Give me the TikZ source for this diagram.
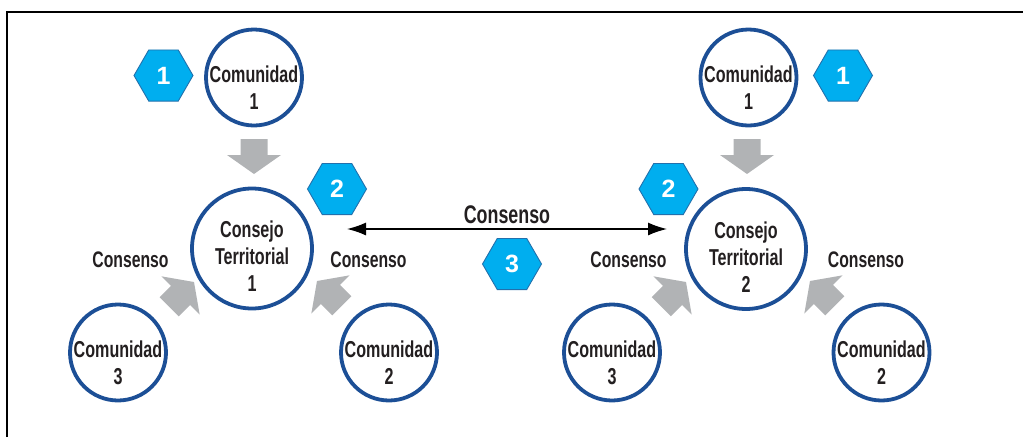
\documentclass[tikz,border=0pt]{standalone}
\usepackage{fontspec}
\setmainfont{Liberation Sans}
\newfontfamily\condfont[FakeStretch=0.7]{Liberation Sans}
\usetikzlibrary{shapes.geometric,arrows.meta,calc}
\definecolor{ringblue}{HTML}{1C4F96}
\definecolor{hexfill}{HTML}{00AEEF}
\definecolor{hexline}{HTML}{2270AC}
\definecolor{arrowgray}{HTML}{B1B3B5}
\definecolor{inkblack}{HTML}{231F20}
\newcommand\grayarrow[4]{%
  \fill[arrowgray]
    ({#1},{#2})
    -- ({#1-19*#3+27*(-#4)},{#2-19*#4+27*#3})
    -- ({#1-19*#3+13.5*(-#4)},{#2-19*#4+13.5*#3})
    -- ({#1-35*#3+13.5*(-#4)},{#2-35*#4+13.5*#3})
    -- ({#1-35*#3-13.5*(-#4)},{#2-35*#4-13.5*#3})
    -- ({#1-19*#3-13.5*(-#4)},{#2-19*#4-13.5*#3})
    -- ({#1-19*#3-27*(-#4)},{#2-19*#4-27*#3})
    -- cycle;}
\tikzset{
  comm/.style={circle, draw=ringblue, line width=3.8pt, fill=white,
    minimum size=96pt, inner sep=0pt,
    label={[yshift=-10pt, align=center, text=inkblack, font=\condfont\bfseries\fontsize{23}{27}\selectfont]center:#1}},
  council/.style={circle, draw=ringblue, line width=3.8pt, fill=white,
    minimum size=120pt, inner sep=0pt,
    label={[yshift=-8pt, align=center, text=inkblack, font=\condfont\bfseries\fontsize{23}{27}\selectfont]center:#1}},
  hexnum/.style={regular polygon, regular polygon sides=6, draw=hexline, line width=0.9pt,
    fill=hexfill, minimum size=59pt, inner sep=0pt, text=white,
    font=\bfseries\fontsize{25}{25}\selectfont},
  conslabel/.style={text=inkblack, font=\condfont\bfseries\fontsize{22.5}{26}\selectfont, inner sep=0pt},
  bigconslabel/.style={text=inkblack, font=\condfont\bfseries\fontsize{25.5}{28}\selectfont, inner sep=0pt},
  linkarrow/.style={{Latex[length=19pt,width=13pt]}-{Latex[length=19pt,width=13pt]}, line width=1.4pt, draw=black}
}
\begin{document}
\begin{tikzpicture}[x=1pt,y=-1pt]
\useasboundingbox (0,0) rectangle (1023,437);
% frame
\draw[line width=1.3pt, black] (7,437) -- (7,12) -- (1023,12);

% gray arrows (left group)
\grayarrow{254}{174}{0}{1}
\grayarrow{194}{282}{0.7071}{-0.7071}
\grayarrow{317}{281}{-0.7071}{-0.7071}
% gray arrows (right group)
\grayarrow{747}{174}{0}{1}
\grayarrow{686}{282}{0.7071}{-0.7071}
\grayarrow{810}{281}{-0.7071}{-0.7071}

% left group
\node[comm={Comunidad\\1}] (lc1) at (254,77.5) {};
\node[council={Consejo\\Territorial\\1}] (ct1) at (252,248.5) {};
\node[comm={Comunidad\\3}] (lc3) at (118,352.5) {};
\node[comm={Comunidad\\2}] (lc2) at (389,352.5) {};
\node[hexnum] (lh1) at (163.5,75.5) {1};
\node[hexnum] (lh2) at (337,189) {2};
\node[conslabel] (lcl) at (130.5,260) {Consenso};
\node[conslabel] (lcr) at (368.5,260) {Consenso};

% right group
\node[comm={Comunidad\\1}] (rc1) at (748.5,77.5) {};
\node[council={Consejo\\Territorial\\2}] (ct2) at (746,249) {};
\node[comm={Comunidad\\3}] (rc3) at (612,352.5) {};
\node[comm={Comunidad\\2}] (rc2) at (881.5,352.5) {};
\node[hexnum] (rh1) at (843,75.5) {1};
\node[hexnum] (rh2) at (668.5,189) {2};
\node[conslabel] (rcl) at (628.5,260) {Consenso};
\node[conslabel] (rcr) at (866,260) {Consenso};

% link between councils
\coordinate (la) at ($(ct1.center)+(95,-19.5)$);
\coordinate (lb) at ($(ct2.center)+(-79,-20)$);
\draw[linkarrow] (la) -- (lb);
\node[bigconslabel] (topcons) at (507,215) {Consenso};
\node[hexnum] (h3) at (512,264) {3};
\end{tikzpicture}
\end{document}
